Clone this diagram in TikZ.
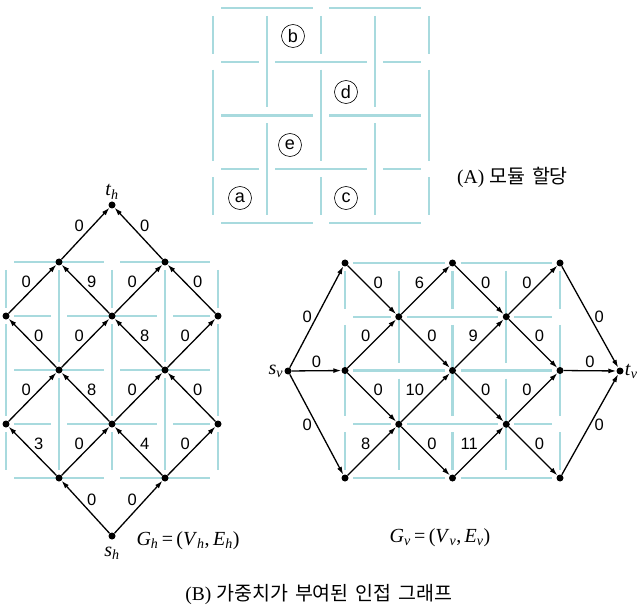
\documentclass[tikz,border=0pt]{standalone}
\usepackage{fontspec}
\setmainfont{Liberation Serif}
\newfontfamily\lblfont{Liberation Sans}
\newfontfamily\korfont[WordSpace=1.6]{Noto Sans CJK KR}
\usetikzlibrary{arrows.meta,positioning}

\definecolor{modcyan}{HTML}{A8DADE}

% italic symbol with italic subscript
\newcommand{\vsub}[2]{\textit{#1}\textsubscript{\textit{#2}}}

% channel segments of the module plan: x0, y0, step x, step y
\newcommand{\modplan}[4]{%
  \foreach \k in {0,...,4} {
    \ifodd\k\relax
      \def\vsegs{0/2,2/4}\def\hsegs{0/1,1/3,3/4}%
    \else
      \def\vsegs{0/1,1/3,3/4}\def\hsegs{0/2,2/4}%
    \fi
    \foreach \a/\b in \vsegs
      \draw[modline] ({#1+\k*#3},{#2+\a*#4+8}) -- ({#1+\k*#3},{#2+\b*#4-8});
    \foreach \a/\b in \hsegs
      \draw[modline] ({#1+\a*#3+8},{#2+\k*#4}) -- ({#1+\b*#3-8},{#2+\k*#4});
  }%
}

\begin{document}
\begin{tikzpicture}[x=1pt,y=-1pt,line join=round,
  modline/.style={draw=modcyan,line width=2.4pt},
  vtx/.style={circle,fill=black,inner sep=0pt,minimum size=7pt},
  edgearr/.style={draw=black,line width=1.3pt,-{Latex[length=8pt,width=5pt]}},
  wt/.style={font=\lblfont\fontsize{16.5}{16.5}\selectfont,inner sep=1pt},
  lblul/.style={wt,midway,above left=0pt},
  lblur/.style={wt,midway,above right=0pt},
  lblup/.style={wt,midway,above=1pt},
  lbll/.style={wt,midway,left=3pt},
  lblr/.style={wt,midway,right=3pt},
  modlbl/.style={circle,draw=black,line width=0.6pt,minimum size=23pt,inner sep=0pt,
    font=\lblfont\fontsize{18}{18}\selectfont},
  symlbl/.style={font=\fontsize{20}{20}\selectfont,inner sep=1pt},
  caption/.style={font=\fontsize{19.5}{19.5}\selectfont,inner sep=1pt}]
  \useasboundingbox (0,0) rectangle (638,615);

  % (A) module plan
  \modplan{213}{8}{54}{53.75}
  \node[modlbl] (mb) at (293,36) {b};
  \node[modlbl] (md) at (346,92) {d};
  \node[modlbl] (me) at (290,145) {e};
  \node[modlbl] (ma) at (240,198) {a};
  \node[modlbl] (mc) at (346,198) {c};
  \node[caption,anchor=west] (capa) at (456,177) {(A) {\korfont 모듈 할당}};

  % plans behind both graphs
  \modplan{6}{262}{53}{54}
  \modplan{345}{263}{53.75}{53.75}

  % G_h vertices
  \foreach \i/\j in {1/0,3/0,0/1,2/1,4/1,1/2,3/2,0/3,2/3,4/3,1/4,3/4}
    \node[vtx] (h\i\j) at ({6+53*\i},{262+54*\j}) {};
  \node[vtx] (th) at (112,205) {};
  \node[vtx] (sh) at (112,536) {};
  \node[symlbl,above=1pt of th] (thl) {\vsub{t}{h}};
  \node[symlbl,below=6pt of sh] (shl) {\vsub{s}{h}};

  % G_h arcs, all pointing up
  \foreach \p/\q/\w in {sh/h34/0,h14/h23/0,h34/h43/0,h03/h12/0,h23/h32/0,
                        h12/h21/0,h32/h41/0,h01/h10/0,h21/h30/0,h10/th/0}
    \draw[edgearr] (\p) -- node[lblul] {\w} (\q);
  \foreach \p/\q/\w in {sh/h14/0,h14/h03/3,h34/h23/4,h23/h12/8,h43/h32/0,
                        h12/h01/0,h32/h21/8,h21/h10/9,h41/h30/0,h30/th/0}
    \draw[edgearr] (\p) -- node[lblur] {\w} (\q);

  % G_v vertices
  \foreach \i/\j in {0/0,0/2,0/4,1/1,1/3,2/0,2/2,2/4,3/1,3/3,4/0,4/2,4/4}
    \node[vtx] (v\i\j) at ({345+53.75*\i},{263+53.75*\j}) {};
  \node[vtx] (sv) at (288,371) {};
  \node[vtx] (tv) at (620,371) {};
  \node[symlbl,left=0pt of sv] (svl) {\vsub{s}{v}};
  \node[symlbl,right=0pt of tv] (tvl) {\vsub{t}{v}};

  % G_v arcs, all pointing right
  \foreach \p/\q/\w in {v02/v11/0,v04/v13/8,v11/v20/6,v13/v22/10,
                        v22/v31/9,v24/v33/11,v31/v40/0,v33/v42/0}
    \draw[edgearr] (\p) -- node[lblul] {\w} (\q);
  \foreach \p/\q/\w in {v00/v11/0,v02/v13/0,v11/v22/0,v13/v24/0,
                        v20/v31/0,v22/v33/0,v31/v42/0,v33/v44/0}
    \draw[edgearr] (\p) -- node[lblur] {\w} (\q);
  \draw[edgearr] (sv) -- node[lbll] {0} (v00);
  \draw[edgearr] (sv) -- node[lblup] {0} (v02);
  \draw[edgearr] (sv) -- node[lbll] {0} (v04);
  \draw[edgearr] (v40) -- node[lblr] {0} (tv);
  \draw[edgearr] (v42) -- node[lblup] {0} (tv);
  \draw[edgearr] (v44) -- node[lblr] {0} (tv);

  % graph names and caption
  \node[symlbl] (ghl) at (188,541) {\vsub{G}{h}\,=\,(\vsub{V}{h},\,\vsub{E}{h})};
  \node[symlbl] (gvl) at (440,538) {\vsub{G}{v}\,=\,(\vsub{V}{v},\,\vsub{E}{v})};
  \node[caption] (capb) at (319,595) {(B) {\korfont 가중치가 부여된 인접 그래프}};
\end{tikzpicture}
\end{document}
